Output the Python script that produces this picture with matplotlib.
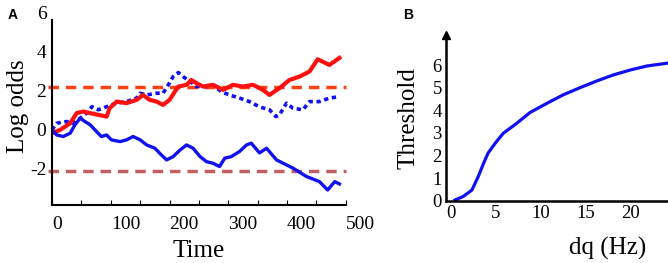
import matplotlib
matplotlib.use('Agg')
import matplotlib.pyplot as plt
import numpy as np

plt.rcParams['axes.unicode_minus'] = False

# panel A: log odds random walks
t_red = [0, 14, 31, 42, 53, 65, 79, 93, 98, 110, 127, 144, 155, 166, 178, 189, 200,
         209, 215, 229, 237, 246, 257, 274, 291, 308, 325, 342, 359, 370, 387, 404,
         421, 438, 452, 472, 489]
L_red = [-0.17, 0.0, 0.34, 0.86, 0.94, 0.86, 0.77, 0.68, 1.11, 1.45, 1.37, 1.54, 1.79,
         1.54, 1.45, 1.28, 1.54, 1.96, 2.22, 2.31, 2.56, 2.39, 2.22, 2.31, 2.05, 2.31,
         2.22, 2.31, 2.05, 1.79, 2.14, 2.56, 2.73, 2.99, 3.62, 3.33, 3.69]

t_dot = [0, 8, 25, 36, 48, 59, 68, 79, 93, 110, 127, 144, 150, 161, 178, 189, 198,
         206, 215, 223, 235, 246, 263, 274, 288, 302, 319, 336, 353, 370, 381, 387,
         399, 410, 427, 438, 455, 472, 486]
L_dot = [0.0, 0.34, 0.43, 0.34, 0.6, 0.86, 1.19, 1.03, 1.19, 1.37, 1.45, 1.63, 1.88,
         1.79, 1.88, 1.88, 2.31, 2.73, 2.94, 2.73, 2.48, 2.22, 2.22, 2.31, 1.96, 1.79,
         1.63, 1.45, 1.18, 1.03, 0.68, 0.77, 1.37, 1.11, 1.03, 1.45, 1.45, 1.63, 1.69]

t_low = [0, 8, 19, 31, 39, 48, 56, 65, 76, 84, 93, 101, 116, 127, 138, 150, 161, 175,
         186, 195, 206, 218, 229, 240, 252, 263, 274, 285, 294, 305, 319, 331, 339,
         353, 365, 382, 410, 433, 455, 469, 481, 489]
L_low = [0.0, -0.26, -0.34, -0.17, 0.26, 0.6, 0.43, 0.26, -0.09, -0.34, -0.26, -0.51,
         -0.6, -0.51, -0.34, -0.51, -0.77, -0.94, -1.28, -1.54, -1.37, -1.03, -0.77,
         -0.94, -1.37, -1.63, -1.71, -1.88, -1.45, -1.37, -1.11, -0.77, -0.68, -1.18,
         -0.94, -1.54, -1.96, -2.39, -2.65, -3.08, -2.65, -2.77]

upper_thr = 2.2
lower_thr = -2.1

# panel B: threshold vs dq
dq = [0.4, 1.3, 2.3, 3.0, 3.6, 4.1, 4.9, 5.8, 7.3, 8.8, 10.7, 12.5, 14.4, 16.3, 18.1,
      20.0, 21.9, 24.1]
thr = [0.03, 0.18, 0.47, 1.06, 1.65, 2.1, 2.54, 2.98, 3.42, 3.9, 4.31, 4.68, 5.0, 5.3,
       5.56, 5.78, 5.96, 6.08]

serif = 'Liberation Serif'

fig = plt.figure(figsize=(6.68, 2.63), dpi=100)

# ---- A ----
ax = fig.add_axes([0.0778, 0.2205, 0.440, 0.753])
ax.plot([-0.014, 1], [upper_thr, upper_thr], transform=ax.get_yaxis_transform(),
        color='#ff4010', lw=2.5, dashes=(3, 2), clip_on=False)
ax.plot([-0.014, 1], [lower_thr, lower_thr], transform=ax.get_yaxis_transform(),
        color='#c06060', lw=2.5, dashes=(3, 2), clip_on=False)
ax.plot(t_dot, L_dot, color='#1010f0', lw=2.6, linestyle=(0, (1.2, 1.0)))
ax.plot(t_red, L_red, color='#ff1010', lw=3.0)
ax.plot(t_low, L_low, color='#1010f0', lw=2.4)

ax.set_xlim(0, 498)
ax.set_ylim(-3.85, 6.3)
for s in ['top', 'right']:
    ax.spines[s].set_visible(False)
ax.spines['left'].set_bounds(-3.85, 5.65)
ax.spines['left'].set_linewidth(1.5)
ax.spines['bottom'].set_linewidth(1.5)
ax.set_xticks([0, 100, 200, 300, 400, 500])
ax.set_xticks([50, 150, 250, 350, 450], minor=True)
ax.set_yticks([-2, 0, 2, 4, 6])
ax.tick_params(axis='x', which='both', direction='in', length=3.5, width=0.8, pad=8,
               labelsize=14)
ax.tick_params(axis='y', length=0, pad=4, labelsize=14)
for lab in ax.get_xticklabels():
    lab.set_horizontalalignment('left')
    lab.set_fontfamily(serif)
for lab in ax.get_yticklabels():
    lab.set_fontfamily(serif)
ax.set_xlabel('Time', fontsize=18, family=serif, labelpad=5)
ax.set_ylabel('Log odds', fontsize=18, family=serif, labelpad=1)
fig.text(13 / 668, 1 - 15 / 263, 'A', fontsize=10, fontweight='bold',
         family='Liberation Sans', ha='center', va='center')

# ---- B ----
bx = fig.add_axes([0.6677, 0.2369, 0.3323, 0.630])
bx.plot(dq, thr, color='#1010f0', lw=2.3)
bx.set_xlim(-0.6, 24.25)
bx.set_ylim(0, 7.33)
for s in ['top', 'right']:
    bx.spines[s].set_visible(False)
bx.spines['left'].set_linewidth(1.8)
bx.spines['bottom'].set_linewidth(1.8)
bx.plot(0, 1, marker='^', color='black', ms=6, transform=bx.transAxes, clip_on=False)
bx.set_xticks([0, 5, 10, 15, 20])
bx.set_yticks([0, 1, 2, 3, 4, 5, 6])
bx.tick_params(length=0, pad=3, labelsize=13.5)
for lab in bx.get_xticklabels() + bx.get_yticklabels():
    lab.set_fontfamily(serif)
bx.set_xlabel('dq (Hz)', fontsize=18, family=serif)
bx.xaxis.set_label_coords(0.73, -0.22)
bx.set_ylabel('Threshold', fontsize=18, family=serif, labelpad=9)
fig.text(408 / 668, 1 - 15 / 263, 'B', fontsize=10, fontweight='bold',
         family='Liberation Sans', ha='center', va='center')

fig.savefig('out.png', dpi=100)
